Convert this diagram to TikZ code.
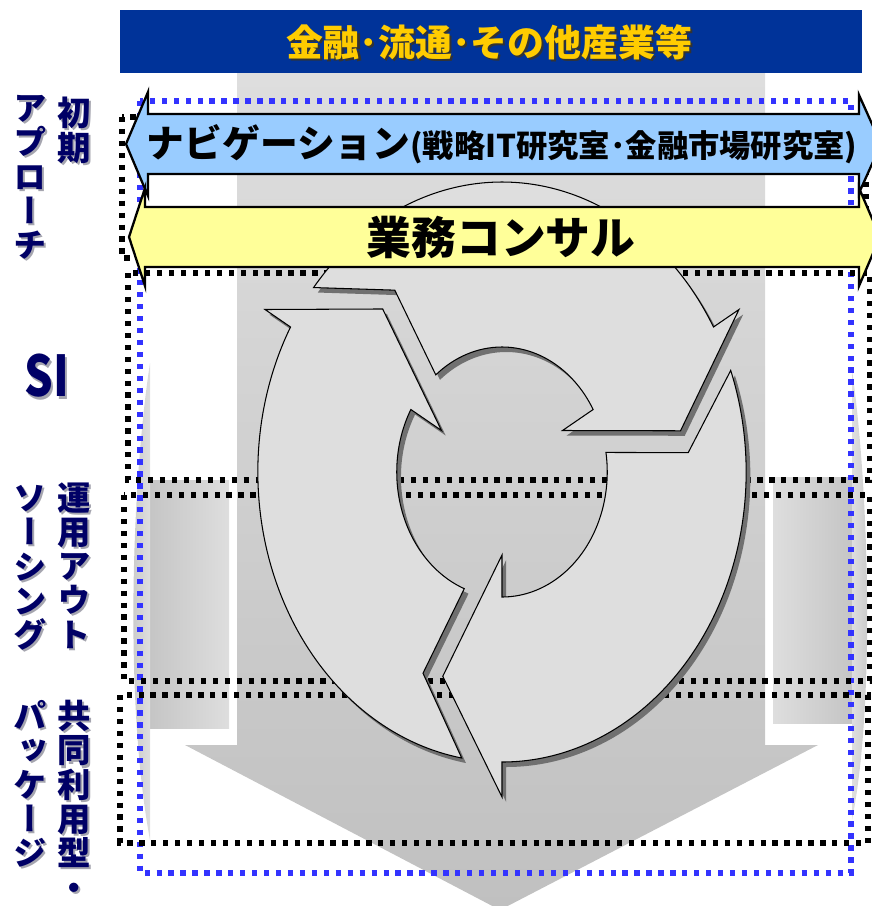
\documentclass[tikz,border=0pt]{standalone}
\usepackage{fontspec}
\usepackage{graphicx}
\newfontfamily\jpfont{Noto Sans CJK JP}
\newfontfamily\jpvfont{Noto Sans CJK JP}[RawFeature=+vert]

\definecolor{titlebg}{RGB}{0,51,153}
\definecolor{titlegold}{RGB}{255,204,0}
\definecolor{navblue}{RGB}{153,204,255}
\definecolor{consyellow}{RGB}{255,255,153}
\definecolor{lblnavy}{RGB}{0,0,102}
\definecolor{lblshade}{RGB}{165,165,175}
\definecolor{dotblue}{RGB}{51,51,255}
\definecolor{shafttop}{RGB}{222,222,222}
\definecolor{shaftbot}{RGB}{192,192,192}
\definecolor{sidelight}{RGB}{222,222,222}
\definecolor{sidedark}{RGB}{194,194,194}
\definecolor{piecefill}{RGB}{222,222,222}
\definecolor{pieceshade}{RGB}{112,112,112}

\tikzset{
  blackdots/.style={line width=3pt, dash pattern=on 3pt off 3.8pt, black},
  bluedots/.style={line width=3pt, dash pattern=on 3pt off 3.8pt, dotblue},
  banner/.style={line width=1.3pt, draw=black},
  sidelbl/.style={anchor=north, inner sep=0pt, align=center, text=lblnavy,
    font=\jpvfont\bfseries\fontsize{19}{19.5}\selectfont},
}
% label in the side column, with its grey shadow
\newcommand{\vlabel}[3]{%
  \node[sidelbl, text=lblshade, xshift=1.2pt, yshift=-1.2pt] at (#2) {#3};
  \node[sidelbl] (#1) at (#2) {#3};
}

\begin{document}
\begin{tikzpicture}[x=0.02cm, y=0.02cm]
  \useasboundingbox (0,0) rectangle (872,-906);

  % Big arrow pointing down
  \shade[top color=shafttop, bottom color=shaftbot] (237,-73) -- (765,-73) -- (765,-745) -- (818,-745) -- (500,-910) -- (185,-745) -- (237,-745) -- cycle;
  % Side pieces
  \shade[left color=sidedark, right color=sidelight] (140,-480) rectangle (229,-728);
  \shade[left color=sidelight, right color=sidedark] (773,-477) rectangle (860,-723);
  \shade[left color=sidedark, right color=sidelight] (150,-363) .. controls (132,-480) and (124,-700) .. (150,-840) -- cycle;
  \shade[left color=sidelight, right color=sidedark] (852,-370) .. controls (868,-480) and (876,-700) .. (852,-820) -- cycle;

  % Frames
  \draw[bluedots] (140,-101) rectangle (851,-873);
  \draw[blackdots] (122,-117) rectangle (866,-258);
  \draw[blackdots] (128,-273) rectangle (870,-480);
  \draw[blackdots] (124,-495) rectangle (870,-681);
  \draw[blackdots] (120,-695) rectangle (868,-843);

  % Cycle of three arrows
  \begin{scope}[shift={(502,-472)}, xscale=0.842]
    \foreach \b in {30,150,270}{
      \fill[pieceshade, shift={(5,-5)}] (\b:325) -- (\b-19:216) -- (\b:83) -- (\b:125) arc[start angle=\b, end angle=\b+99, radius=125] -- (\b+95:222) -- (\b+110.5:290) arc[start angle=\b+110.5, end angle=\b, radius=290] -- cycle;
      \filldraw[fill=piecefill, draw=black, line width=0.6pt] (\b:325) -- (\b-19:216) -- (\b:83) -- (\b:125) arc[start angle=\b, end angle=\b+99, radius=125] -- (\b+95:222) -- (\b+110.5:290) arc[start angle=\b+110.5, end angle=\b, radius=290] -- cycle;
    }
  \end{scope}

  % Banners
  \draw[banner, fill=navblue] (126,-144) -- (148,-92) -- (148,-114) -- (859,-114) -- (859,-95) -- (881,-144) -- (859,-193) -- (859,-174) -- (148,-174) -- (148,-196) -- cycle;
  \draw[banner, fill=consyellow] (129,-237) -- (145,-188) -- (145,-207) -- (859,-207) -- (859,-188) -- (880,-237) -- (859,-286) -- (859,-267) -- (145,-267) -- (145,-286) -- cycle;
  \node[font=\jpfont\bfseries\fontsize{21.5}{24}\selectfont] (nav) at (502,-144) {ナビゲーション{\fontsize{17.8}{20}\selectfont(戦略IT研究室･金融市場研究室)}};
  \node[font=\jpfont\bfseries\fontsize{25.5}{30}\selectfont] (consult) at (501,-237) {業務コンサル};

  % Title bar
  \fill[titlebg] (120,-10) rectangle (862,-73);
  \node[font=\jpfont\bfseries\fontsize{21}{24}\selectfont, text=black!80, xshift=1.2pt, yshift=-1.2pt] at (489,-42) {金融･流通･その他産業等};
  \node[font=\jpfont\bfseries\fontsize{21}{24}\selectfont, text=titlegold] (title) at (489,-42) {金融･流通･その他産業等};

  % Stage labels
  \vlabel{shoki}{74,-97}{初\\期}
  \vlabel{approach}{30,-95}{ア\\プ\\ロ\\ー\\チ}
  \node[font=\jpfont\bfseries\fontsize{32}{36}\selectfont, text=lblshade, xshift=1.2pt, yshift=-1.2pt] at (47,-376) {\scalebox{0.8}[1]{SI}};
  \node[font=\jpfont\bfseries\fontsize{32}{36}\selectfont, text=lblnavy] (si) at (47,-376) {\scalebox{0.8}[1]{SI}};
  \vlabel{unyou}{74,-482}{運\\用\\ア\\ウ\\ト}
  \vlabel{sourcing}{30,-485}{ソ\\ー\\シ\\ン\\グ}
  \vlabel{kyoudou}{74,-700}{共\\同\\利\\用\\型\\・}
  \vlabel{package}{30,-700}{パ\\ッ\\ケ\\ー\\ジ}
\end{tikzpicture}
\end{document}
